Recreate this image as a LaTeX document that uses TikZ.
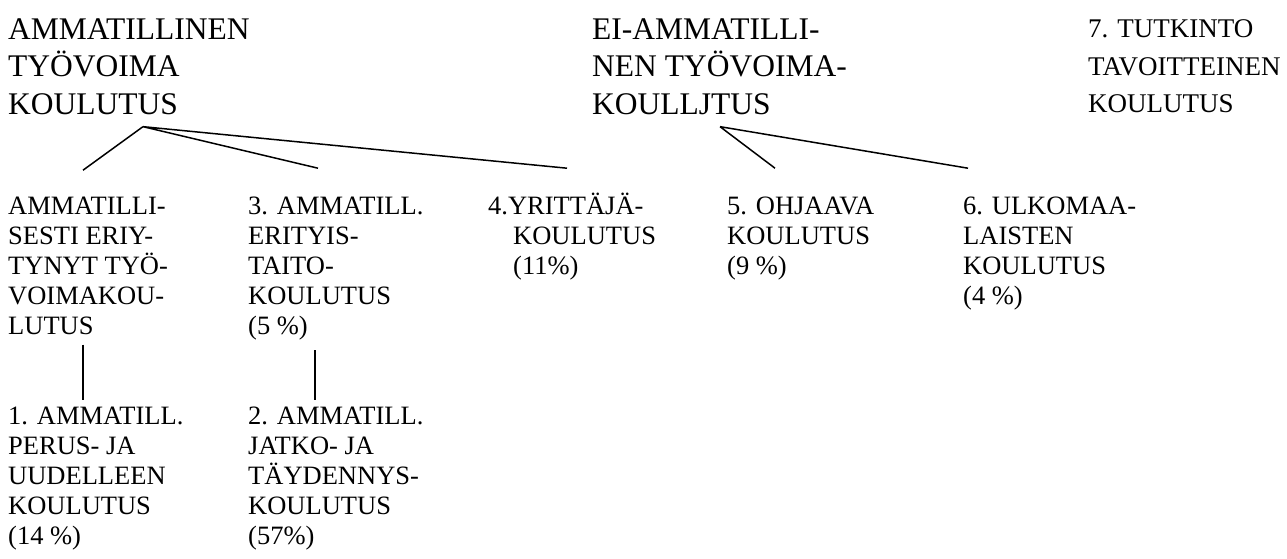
\documentclass[tikz,border=0pt]{standalone}
\usepackage{fontspec}
\setmainfont{Liberation Serif}
\usetikzlibrary{calc,positioning}
\newcommand{\firstline}{\rule{0pt}{0.9em}}

\begin{document}
\begin{tikzpicture}[x=1pt,y=1pt,
		head/.style={anchor=north west,inner sep=0pt,align=left,font=\fontsize{31.5}{37.5}\selectfont},
		item/.style={anchor=north west,inner sep=0pt,align=left,font=\fontsize{26.5}{30}\selectfont},
		link/.style={line width=1.5pt}]
		\useasboundingbox (0,0) rectangle (1287,-558);
		% top level
		\node[head] (amm) at (8,-10.6) {\firstline AMMATILLINEN\\TYÖVOIMA\\KOULUTUS};
		\node[head] (eiamm) at (592,-10.6) {\firstline EI-AMMATILLI-\\NEN TYÖVOIMA-\\KOULLJTUS};
		\node[item,font=\fontsize{27}{37.5}\selectfont] (tutk) at (1088,-13) {\firstline 7. TUTKINTO\\TAVOITTEINEN\\KOULUTUS};
		% second level
		\node[item] (erit) at (8,-190.2) {\firstline AMMATILLI-\\SESTI ERIY-\\TYNYT TYÖ-\\VOIMAKOU-\\LUTUS};
		\node[item] (taito) at (248,-190.2) {\firstline 3. AMMATILL.\\ERITYIS-\\TAITO-\\KOULUTUS\\(5 \%)};
		\node[item] (yritt) at (488,-190.2) {\firstline 4.YRITTÄJÄ-\\\hspace*{25pt}KOULUTUS\\\hspace*{25pt}(11\%)};
		\node[item] (ohj) at (727,-190.2) {\firstline 5. OHJAAVA\\KOULUTUS\\(9 \%)};
		\node[item] (ulk) at (963,-190.2) {\firstline 6. ULKOMAA-\\LAISTEN\\KOULUTUS\\(4 \%)};
		% third level
		\node[item] (perus) at (8,-400.2) {\firstline 1. AMMATILL.\\PERUS- JA\\UUDELLEEN\\KOULUTUS\\(14 \%)};
		\node[item] (jatko) at (248,-400.2) {\firstline 2. AMMATILL.\\JATKO- JA\\TÄYDENNYS-\\KOULUTUS\\(57\%)};
		% connectors
		\coordinate (x) at ($(amm.south west)+(135,-12)$);
		\draw[link] (x) -- ($(erit.north west)+(75,20)$)
			(x) -- ($(taito.north west)+(70,22)$)
			(x) -- ($(yritt.north west)+(79,22)$);
		\coordinate (x) at ($(eiamm.south west)+(128,-12)$);
		\draw[link] (x) -- ($(ohj.north west)+(48,22)$)
			(x) -- ($(ulk.north west)+(5,22)$);
		\draw[link] ($(erit.south west)+(75,-10)$) coordinate (e) -- (e |- perus.north);
		\draw[link] ($(taito.south west)+(67,-10)$) coordinate (t) -- (t |- jatko.north);
\end{tikzpicture}
\end{document}
